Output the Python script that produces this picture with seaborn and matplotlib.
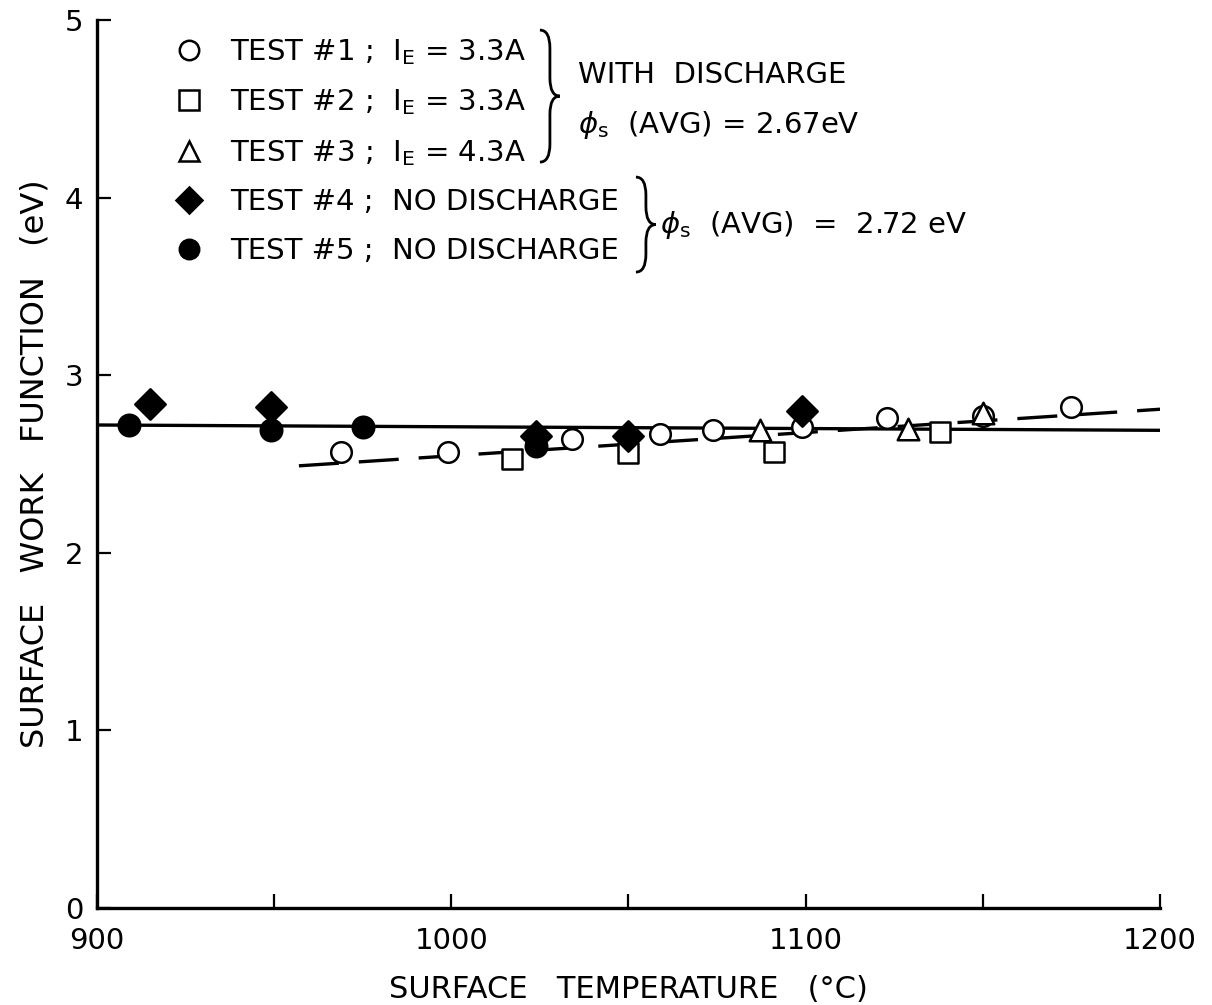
"""Surface work function vs surface temperature, tests #1-#5."""
import matplotlib
matplotlib.use("Agg")
import matplotlib.pyplot as plt
import seaborn as sns
import pandas as pd
from matplotlib.lines import Line2D
from matplotlib.path import Path
from matplotlib.patches import PathPatch
from matplotlib.ticker import MultipleLocator

# ---- data ----
t1_temp = [969, 999, 1034, 1059, 1074, 1099, 1123, 1150, 1175]
t1_phi = [2.57, 2.57, 2.64, 2.67, 2.69, 2.71, 2.76, 2.77, 2.82]
t2_temp = [1017, 1050, 1091, 1138]
t2_phi = [2.53, 2.56, 2.57, 2.68]
t3_temp = [1087, 1129, 1150]
t3_phi = [2.69, 2.70, 2.79]
t4_temp = [915, 949, 1024, 1050, 1099]
t4_phi = [2.84, 2.82, 2.66, 2.66, 2.80]
t5_temp = [909, 949, 975, 1024]
t5_phi = [2.72, 2.69, 2.71, 2.60]

no_dis_fit_temp = [900, 1200]
no_dis_fit_phi = [2.72, 2.69]
dis_fit_temp = [957, 1201]
dis_fit_phi = [2.49, 2.81]

legend_labels = [
    r"TEST #1 ;  $\mathrm{I_E}$ = 3.3A",
    r"TEST #2 ;  $\mathrm{I_E}$ = 3.3A",
    r"TEST #3 ;  $\mathrm{I_E}$ = 4.3A",
    "TEST #4 ;  NO DISCHARGE",
    "TEST #5 ;  NO DISCHARGE",
]

sns.set_theme(style="ticks")
plt.rcParams["font.family"] = ["DejaVu Sans"]
plt.rcParams["mathtext.fontset"] = "dejavusans"
for key in ("text.color", "axes.labelcolor", "xtick.color", "ytick.color", "axes.edgecolor"):
    plt.rcParams[key] = "black"

fig = plt.figure(figsize=(12.12, 10.05), dpi=100)
ax = fig.add_axes([0.080, 0.0965, 0.877, 0.8835])

# fitted lines
sns.lineplot(x=no_dis_fit_temp, y=no_dis_fit_phi, color="black", lw=2.4, ax=ax, zorder=2)
sns.lineplot(x=dis_fit_temp, y=dis_fit_phi, color="black", lw=2.4, ax=ax, zorder=2)
ax.lines[-1].set_dashes([12, 6])

series = [
    (t1_temp, t1_phi, "o", "white", 220),
    (t2_temp, t2_phi, "s", "white", 220),
    (t3_temp, t3_phi, "^", "white", 240),
    (t4_temp, t4_phi, "D", "black", 240),
    (t5_temp, t5_phi, "o", "black", 240),
]
handles = []
for (tx, ty, m, fc, s), lab in zip(series, legend_labels):
    df = pd.DataFrame({"temp": tx, "phi": ty})
    sns.scatterplot(data=df, x="temp", y="phi", marker=m, s=s, facecolor=fc,
                    edgecolor="black", linewidth=1.8, ax=ax, zorder=3, legend=False)
    handles.append(Line2D([], [], ls="none", marker=m, markersize=14 if m != "D" else 13,
                          markerfacecolor=fc, markeredgecolor="black",
                          markeredgewidth=1.8))

ax.set_xlim(900, 1200)
ax.set_ylim(0, 5)
ax.xaxis.set_major_locator(MultipleLocator(100))
ax.xaxis.set_minor_locator(MultipleLocator(50))
ax.yaxis.set_major_locator(MultipleLocator(1))
ax.tick_params(which="both", direction="in", length=10, width=1.6, labelsize=21)
ax.tick_params(axis="x", pad=14)
ax.tick_params(axis="y", pad=10)
for side in ("top", "right"):
    ax.spines[side].set_visible(False)
for side in ("left", "bottom"):
    ax.spines[side].set_linewidth(2.4)

ax.set_xlabel("SURFACE   TEMPERATURE   (°C)", fontsize=22, labelpad=14)
ax.set_ylabel("SURFACE   WORK   FUNCTION   (eV)", fontsize=23, labelpad=10)

ax.legend(handles, legend_labels, loc="upper left", bbox_to_anchor=(0.073, 0.981),
          frameon=False, fontsize=21, handlelength=1.0, handletextpad=0.9,
          labelspacing=0.71, borderpad=0, borderaxespad=0)


def px(x, y):
    # reference pixel -> axes fraction
    return (x - 97) / 1063, (908 - y) / 888


def brace(x0, y_top, y_bot, w):
    ym = (y_top + y_bot) / 2
    r = w * 0.9
    xm = x0 + w / 2
    pts = [(x0, y_top), (xm, y_top), (xm, y_top + r), (xm, ym - r), (xm, ym),
           (x0 + w, ym), (xm, ym), (xm, ym + r), (xm, y_bot - r), (xm, y_bot),
           (x0, y_bot)]
    codes = [Path.MOVETO, Path.CURVE3, Path.CURVE3, Path.LINETO, Path.CURVE3,
             Path.CURVE3, Path.CURVE3, Path.CURVE3, Path.LINETO, Path.CURVE3, Path.CURVE3]
    verts = [px(*p) for p in pts]
    ax.add_patch(PathPatch(Path(verts, codes), fc="none", ec="black", lw=2.0,
                           transform=ax.transAxes, clip_on=False))


brace(540, 30, 162, 20)
brace(636, 177, 272, 20)

ax.text(*px(578, 75), "WITH  DISCHARGE", transform=ax.transAxes, fontsize=21,
        va="center", ha="left")
ax.text(*px(578, 125), r"$\phi_\mathrm{s}$  (AVG) = 2.67eV", transform=ax.transAxes,
        fontsize=21, va="center", ha="left")
ax.text(*px(660, 225), r"$\phi_\mathrm{s}$  (AVG)  =  2.72 eV", transform=ax.transAxes,
        fontsize=21, va="center", ha="left")

fig.savefig("out.png", dpi=100)
